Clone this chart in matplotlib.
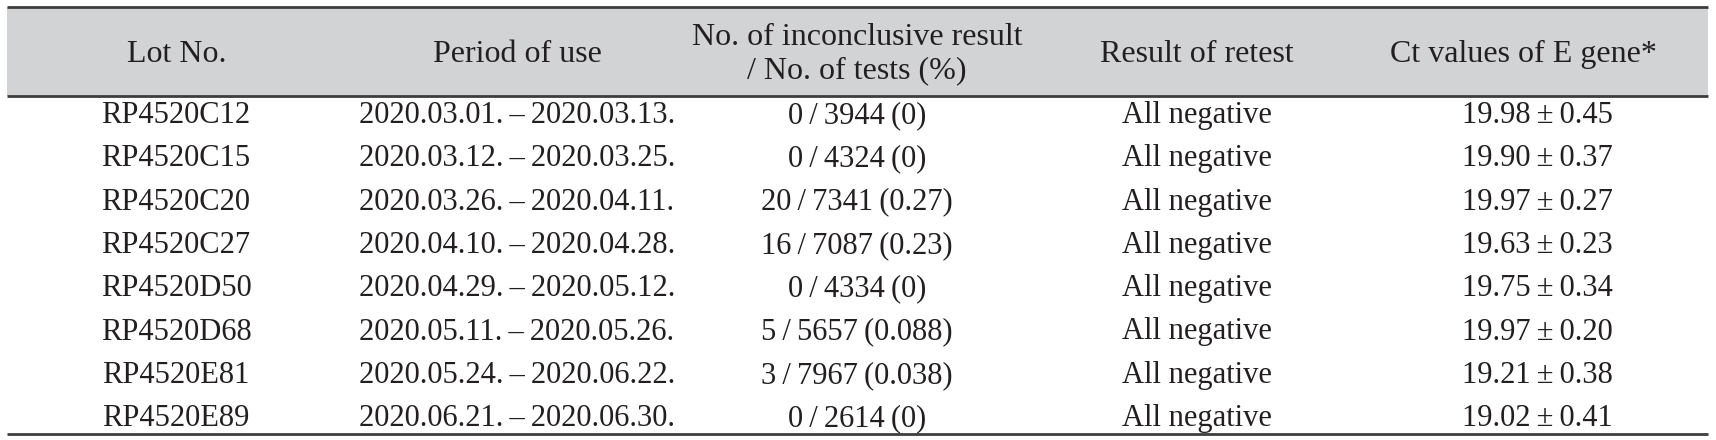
import matplotlib
matplotlib.use("Agg")
import matplotlib.pyplot as plt
from matplotlib.patches import Rectangle

TS = "\u2009"  # thin space

headers = ["Lot No.", "Period of use", "No. of inconclusive result\n/ No. of tests (%)",
           "Result of retest", "Ct values of E gene*"]
lots = ["RP4520C12", "RP4520C15", "RP4520C20", "RP4520C27",
        "RP4520D50", "RP4520D68", "RP4520E81", "RP4520E89"]
period_start = ["2020.03.01.", "2020.03.12.", "2020.03.26.", "2020.04.10.",
                "2020.04.29.", "2020.05.11.", "2020.05.24.", "2020.06.21."]
period_end = ["2020.03.13.", "2020.03.25.", "2020.04.11.", "2020.04.28.",
              "2020.05.12.", "2020.05.26.", "2020.06.22.", "2020.06.30."]
n_inconclusive = [0, 0, 20, 16, 0, 5, 3, 0]
n_tests = [3944, 4324, 7341, 7087, 4334, 5657, 7967, 2614]
pct = ["0", "0", "0.27", "0.23", "0", "0.088", "0.038", "0"]
retest = ["All negative"] * 8
ct_mean = ["19.98", "19.90", "19.97", "19.63", "19.75", "19.97", "19.21", "19.02"]
ct_sd = ["0.45", "0.37", "0.27", "0.23", "0.34", "0.20", "0.38", "0.41"]

periods = [f"{a}{TS}\u2013{TS}{b}" for a, b in zip(period_start, period_end)]
inconclusive = [f"{a}{TS}/{TS}{b}{TS}({p})" for a, b, p in zip(n_inconclusive, n_tests, pct)]
ct_values = [f"{m}{TS}\u00b1{TS}{s}" for m, s in zip(ct_mean, ct_sd)]

W, H = 1716, 440
fig = plt.figure(figsize=(W / 100, H / 100), dpi=100)
ax = fig.add_axes([0, 0, 1, 1])
ax.set_xlim(0, W)
ax.set_ylim(H, 0)
ax.axis("off")

x0, x1 = 7, 1708
top, hdr_bot, bot = 7, 96, 434
hdr_x = [177, 517, 857, 1197, 1523]
col_x = [176, 517, 857, 1197, 1537]
row_y0, row_dy = 115.5, 43.3

ax.add_patch(Rectangle((x0, top), x1 - x0, hdr_bot - top, facecolor="#d2d3d5", edgecolor="none"))
line_col = "#3d3d3d"
for yy in (top, hdr_bot, bot):
    ax.plot([x0, x1], [yy, yy], color=line_col, lw=2.0, solid_capstyle="butt")

hfont = dict(family="Liberation Serif", fontsize=23, color="#231f20")
bfont = dict(family="Liberation Serif", fontsize=22, color="#231f20")
for x, h in zip(hdr_x, headers):
    ax.text(x, (top + hdr_bot) / 2 + 3, h, ha="center", va="center", linespacing=1.2, **hfont)

cols = [lots, periods, inconclusive, retest, ct_values]
for j, col in enumerate(cols):
    for i, val in enumerate(col):
        ax.text(col_x[j], row_y0 + i * row_dy, val, ha="center", va="center", **bfont)

fig.savefig("out.png", dpi=100)
